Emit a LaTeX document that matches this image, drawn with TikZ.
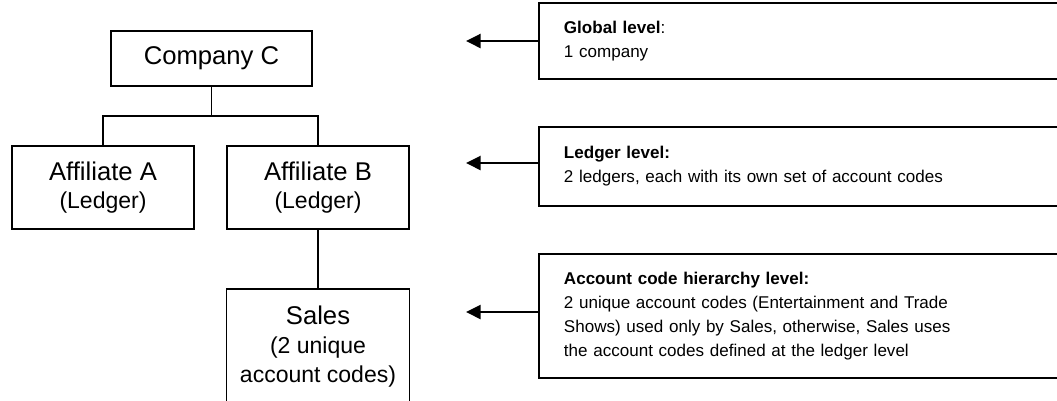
\documentclass[tikz,border=0pt]{standalone}
\usepackage{fontspec}
\setmainfont{Liberation Sans}
\usetikzlibrary{arrows.meta}

\newcommand\parenfont{\fontsize{13.1}{16.4}\selectfont}

\tikzset{
  orgbox/.style={draw,line width=1.1pt,align=center,inner sep=0pt,font=\fontsize{14.6}{16.4}\selectfont},
  levelbox/.style={draw,line width=1.1pt,anchor=west,align=left,text width=10cm,inner xsep=0.4cm,minimum width=11cm,font=\fontsize{9.7}{13.6}\selectfont},
  tree/.style={line width=1.1pt},
  levelarrow/.style={line width=1.1pt,-{Triangle[length=0.29cm,width=0.28cm]}}
}

\begin{document}
\begin{tikzpicture}[x=0.02cm,y=-0.02cm]
  \clip (0,0) rectangle (1057,400);

  \node[orgbox,minimum width=4.02cm,minimum height=1.1cm] (compC) at (211.5,58.5) {Company C};
  \node[orgbox,minimum width=3.64cm,minimum height=1.66cm] (affA) at (103,187.5) {Affiliate A\\{\parenfont (Ledger)}};
  \node[orgbox,minimum width=3.64cm,minimum height=1.66cm] (affB) at (318,187.5) {Affiliate B\\{\parenfont (Ledger)}};
  \node[orgbox,minimum width=3.66cm,minimum height=2.3cm] (sales) at (318,346.5) {Sales\\{\parenfont (2 unique}\\{\parenfont account codes)}};

  \coordinate (bar) at (211.5,116);
  \draw[tree] (compC.south) -- (bar);
  \draw[tree] (affA.north) |- (bar) -| (affB.north);
  \draw[tree] (affB.south) -- (sales.north);

  \node[levelbox,minimum height=1.52cm] (global) at (538,41) {\textbf{Global level}:\\1 company};
  \node[levelbox,minimum height=1.58cm] (ledger) at (538,166.5) {\textbf{Ledger level:}\\2 ledgers, each with its own set of account codes};
  \node[levelbox,minimum height=2.48cm] (account) at (538,316) {\textbf{Account code hierarchy level:}\\2 unique account codes (Entertainment and Trade\\Shows) used only by Sales, otherwise, Sales uses\\the account codes defined at the ledger level};

  \coordinate (globaltip) at (466,41);
  \coordinate (ledgertip) at (466,163);
  \coordinate (accounttip) at (466,312);
  \draw[levelarrow] (global.west |- globaltip) -- (globaltip);
  \draw[levelarrow] (ledger.west |- ledgertip) -- (ledgertip);
  \draw[levelarrow] (account.west |- accounttip) -- (accounttip);
\end{tikzpicture}
\end{document}
